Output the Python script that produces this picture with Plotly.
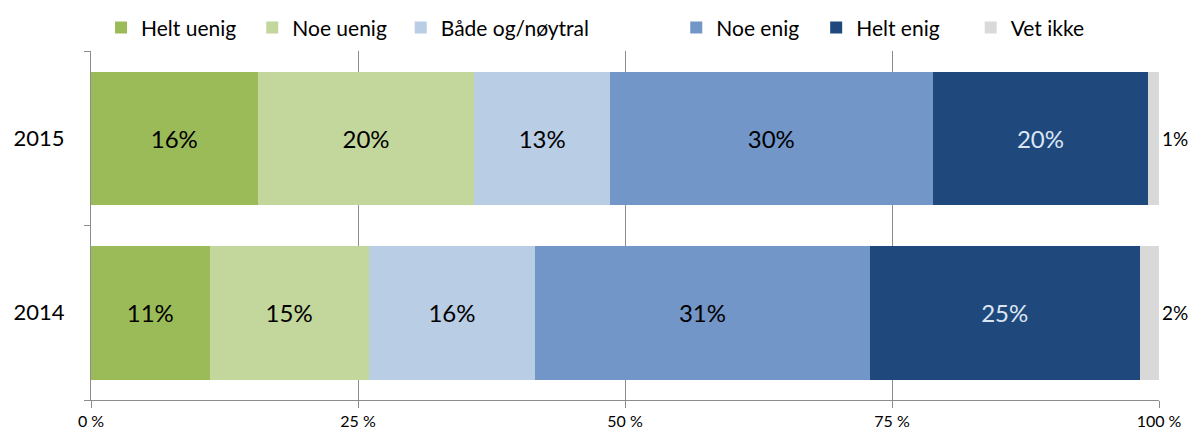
import plotly.graph_objects as go

years = ['2014', '2015']
categories = ['Helt uenig', 'Noe uenig', 'Både og/nøytral', 'Noe enig', 'Helt enig', 'Vet ikke']
values_2014 = [11.1, 14.9, 15.6, 31.3, 25.3, 1.8]
values_2015 = [15.6, 20.3, 12.7, 30.2, 20.2, 1.0]
colors = ['#9BBB59', '#C3D69B', '#B9CDE5', '#7396C8', '#1F497D', '#D9D9D9']
text_colors = ['#000000', '#000000', '#000000', '#000000', '#DCE6F2', '#000000']
tick_vals = [0, 25, 50, 75, 100]
tick_text = ['0 %', '25 %', '50 %', '75 %', '100 %']

# one legend per entry so the spacing follows the original layout
legend_x = [0.0094, 0.1510, 0.2900, 0.5480, 0.6790, 0.8237]

FONT = 'Lato, Open Sans, sans-serif'

fig = go.Figure()
legend_layout = {}
for i, cat in enumerate(categories):
    last = i == len(categories) - 1
    lname = 'legend' if i == 0 else f'legend{i + 1}'
    fig.add_trace(go.Bar(
        y=years,
        x=[values_2014[i], values_2015[i]],
        name=cat,
        orientation='h',
        legend=lname,
        showlegend=True,
        marker=dict(color=colors[i], line=dict(width=0)),
        texttemplate='%{x:.0f}%',
        textposition='outside' if last else 'inside',
        insidetextanchor='middle',
        textangle=0,
        constraintext='none',
        cliponaxis=False,
        textfont=dict(family=FONT, size=19 if last else 24, color=text_colors[i]),
        hovertemplate=cat + ': %{x:.0f}%<extra>%{y}</extra>',
    ))
    legend_layout[lname] = dict(orientation='h', x=legend_x[i], xanchor='left', y=1.066,
                                yanchor='middle', font=dict(family=FONT, size=21, color='#000000'),
                                itemwidth=30, bgcolor='rgba(0,0,0,0)')

fig.update_layout(
    barmode='stack',
    bargap=0.235,
    width=1189,
    height=437,
    showlegend=True,
    margin=dict(l=91, r=30, t=51, b=37, autoexpand=False),
    plot_bgcolor='white',
    paper_bgcolor='white',
    font=dict(family=FONT, size=20, color='#000000'),
    xaxis=dict(range=[0, 100], tickvals=tick_vals, ticktext=tick_text, showgrid=True,
               gridcolor='#8C8C8C', gridwidth=1, showline=True, linecolor='#8C8C8C',
               ticks='outside', ticklen=7, tickcolor='#8C8C8C', zeroline=False,
               automargin=False, tickfont=dict(family=FONT, size=16, color='#000000')),
    yaxis=dict(showline=True, linecolor='#8C8C8C', ticks='outside', tickson='boundaries',
               ticklen=6, tickcolor='#8C8C8C', showgrid=False, ticklabelstandoff=21,
               automargin=False, tickfont=dict(family=FONT, size=22, color='#000000')),
    **legend_layout,
)

# drop the default 8px page margin so the figure fills the window exactly
fig.write_html('out.html', config={'displayModeBar': False},
               post_script="document.body.style.margin='0';")
